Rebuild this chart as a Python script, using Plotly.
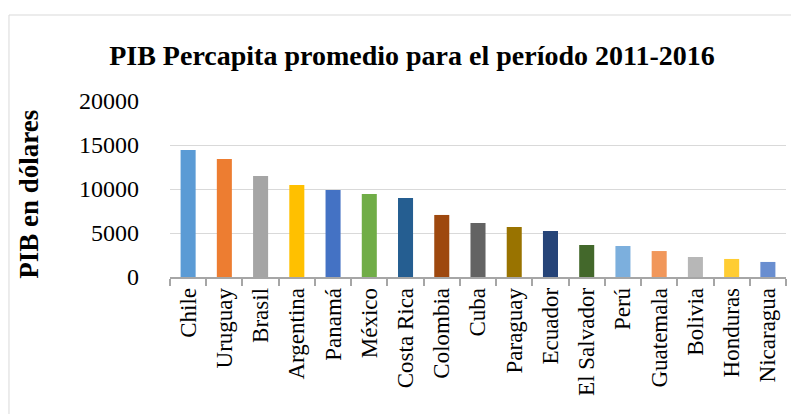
import plotly.graph_objects as go

# PIB per cápita promedio 2011-2016 (dólares)
countries = [
    "Chile", "Uruguay", "Brasil", "Argentina", "Panamá", "México", "Costa Rica",
    "Colombia", "Cuba", "Paraguay", "Ecuador", "El Salvador", "Perú",
    "Guatemala", "Bolivia", "Honduras", "Nicaragua",
]
pib = [
    14430, 13410, 11480, 10450, 9890, 9430, 8980,
    7050, 6140, 5680, 5230, 3640, 3520,
    2950, 2270, 2050, 1710,
]
bar_colors = [
    "#5B9BD5", "#ED7D31", "#A5A5A5", "#FFC000", "#4472C4", "#70AD47", "#255E91",
    "#9E480E", "#636363", "#997300", "#264478", "#43682B", "#7CAFDD",
    "#F1975A", "#B7B7B7", "#FFCD33", "#698ED0",
]
y_ticks = [0, 5000, 10000, 15000, 20000]

SERIF = "Liberation Serif"

fig = go.Figure(
    go.Bar(x=countries, y=pib, marker=dict(color=bar_colors, line_width=0))
)

# the page body adds an 8px offset, margins compensate for it
fig.update_layout(
    width=799,
    height=414,
    margin=dict(l=162, r=21, t=93, b=145),
    paper_bgcolor="white",
    plot_bgcolor="white",
    bargap=0.585,
    showlegend=False,
    font=dict(family=SERIF, color="black"),
    title=dict(
        text="<b>PIB Percapita promedio para el período 2011-2016</b>",
        x=404 / 799,
        xanchor="center",
        xref="container",
        y=1 - 47 / 414,
        yanchor="middle",
        yref="container",
        font=dict(size=28, family=SERIF, color="black"),
    ),
)

fig.update_xaxes(
    type="category",
    tickangle=-90,
    tickfont=dict(size=23, family=SERIF, color="black"),
    showline=True,
    linecolor="#A6A6A6",
    linewidth=1.5,
    ticks="outside",
    tickson="boundaries",
    ticklen=7,
    tickcolor="#A6A6A6",
    tickwidth=1.5,
    showgrid=False,
)

fig.update_yaxes(
    range=[0, 20000],
    tickvals=y_ticks,
    ticktext=[str(v) for v in y_ticks],
    tickfont=dict(size=24, family=SERIF, color="black"),
    ticklabelstandoff=30,
    showgrid=True,
    gridcolor="#D9D9D9",
    gridwidth=1,
    zeroline=False,
    showline=False,
)

fig.add_annotation(
    text="<b>PIB en dólares</b>",
    textangle=-90,
    xref="paper",
    yref="paper",
    x=-0.228,
    y=0.47,
    xanchor="center",
    yanchor="middle",
    showarrow=False,
    font=dict(size=27, family=SERIF, color="black"),
)

# chart frame (right and bottom edges fall outside the window)
fig.add_shape(
    type="rect",
    xref="paper",
    yref="paper",
    x0=-0.2614,
    x1=1.04,
    y0=-0.85,
    y1=1.4886,
    line=dict(color="#D9D9D9", width=1),
    layer="below",
)

fig.write_html("out.html")
